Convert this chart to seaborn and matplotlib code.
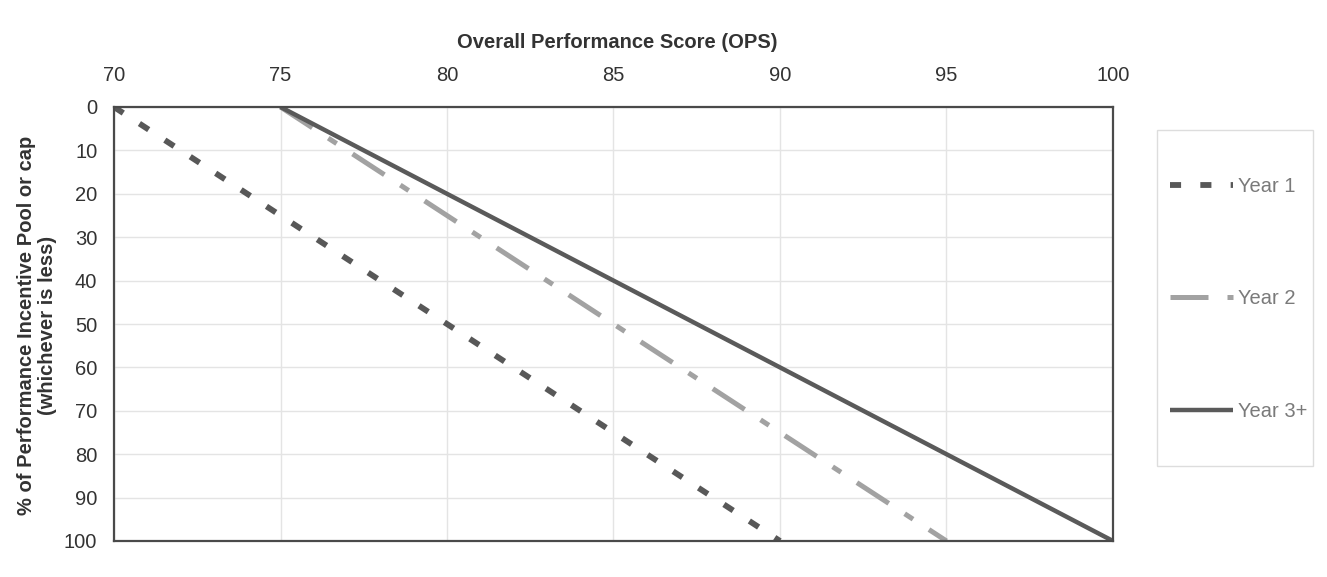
import matplotlib
matplotlib.use("Agg")
import matplotlib.pyplot as plt
from matplotlib.patches import Rectangle
import seaborn as sns
import pandas as pd

# Payout schedule: OPS score at which each tier starts (0 %) and reaches 100 %
series = ["Year 1", "Year 2", "Year 3+"]
ops_start = [70, 75, 75]
ops_full = [90, 95, 100]
pct_points = [0, 100]

x_ticks = [70, 75, 80, 85, 90, 95, 100]
y_ticks = [0, 10, 20, 30, 40, 50, 60, 70, 80, 90, 100]

rows = []
for name, a, b in zip(series, ops_start, ops_full):
    rows.append({"series": name, "ops": a, "pct": pct_points[0]})
    rows.append({"series": name, "ops": b, "pct": pct_points[1]})
df = pd.DataFrame(rows)

sns.set_theme(style="white")
plt.rcParams["font.family"] = ["Liberation Sans", "DejaVu Sans"]

FS = 14.5
W, H = 1327, 577
fig = plt.figure(figsize=(W / 100, H / 100), dpi=100)
ax = fig.add_axes([114 / W, 1 - 541 / H, (1113 - 114) / W, (541 - 107) / H])

colors = {"Year 1": "#585858", "Year 2": "#a2a2a2", "Year 3+": "#5a5a5a"}
widths = {"Year 1": 4.2, "Year 2": 3.6, "Year 3+": 3.2}
dashes = {"Year 1": (1.9, 3.3), "Year 2": (7.6, 3.8, 2.0, 3.8), "Year 3+": ""}

sns.lineplot(data=df, x="ops", y="pct", hue="series", style="series",
             palette=colors, dashes=dashes, ax=ax, legend=False,
             estimator=None, sort=False)
for line, name in zip(ax.lines, series):
    line.set_linewidth(widths[name])
    line.set_solid_capstyle("butt")
    line.set_dash_capstyle("butt")

ax.set_xlim(70, 100)
ax.set_ylim(100, 0)
ax.set_xticks(x_ticks)
ax.set_yticks(y_ticks)
ax.xaxis.tick_top()
ax.tick_params(axis="x", length=0, pad=16, labelsize=FS, labelcolor="#333333")
ax.tick_params(axis="y", length=0, pad=12, labelsize=FS, labelcolor="#333333")
ax.grid(True, color="#e4e4e4", linewidth=1.0)
for s in ax.spines.values():
    s.set_visible(True)
    s.set_color("#4a4a4a")
    s.set_linewidth(1.6)
ax.set_xlabel("")
ax.set_ylabel("")

fig.text(617 / W, 1 - 42 / H, "Overall Performance Score (OPS)", ha="center",
         va="center", fontsize=FS, fontweight="bold", color="#333333")
fig.text(37 / W, 1 - 325 / H,
         "% of Performance Incentive Pool or cap\n(whichever is less)",
         ha="center", va="center", rotation=90, fontsize=FS,
         fontweight="bold", color="#333333", multialignment="center",
         linespacing=1.15)

# Legend with a frame drawn as its own box
fig.patches.append(Rectangle((1157 / W, 1 - 466 / H), (1313 - 1157) / W,
                             (466 - 130) / H, transform=fig.transFigure,
                             facecolor="white", edgecolor="#dddddd",
                             linewidth=1.0))
handles = ax.lines[:3]
leg = fig.legend(handles, series, loc="center left",
                 bbox_to_anchor=(1160 / W, 1 - 299 / H), frameon=False,
                 fontsize=FS, handlelength=3.1, handletextpad=0.25,
                 labelspacing=4.65, borderpad=0)
for t in leg.get_texts():
    t.set_color("#7a7a7a")

fig.savefig("out.png", dpi=100)
